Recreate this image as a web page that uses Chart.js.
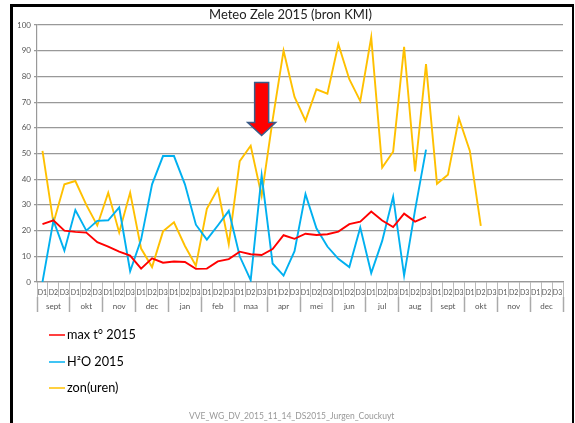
<!DOCTYPE html>
<html>
<head>
<meta charset="utf-8">
<style>html,body{margin:0;padding:0;background:#fff}#w{width:575px;height:423px;position:relative}</style>
<script src="https://cdn.jsdelivr.net/npm/chart.js@4"></script>
</head>
<body>
<div id="w"><canvas id="c" width="575" height="423"></canvas></div>
<script>
const titleText = 'Meteo Zele 2015 (bron KMI)';
const footerText = 'VVE_WG_DV_2015_11_14_DS2015_Jurgen_Couckuyt';
const months = ['sept','okt','nov','dec','jan','feb','maa','apr','mei','jun','jul','aug','sept','okt','nov','dec'];
const decades = ['D1','D2','D3'];
const categories = months.flatMap(m => decades.map(d => d));
const maxTemp = [22.5,24,20,19.5,19.2,15.5,13.8,11.8,10.3,5.2,9.2,7.5,8,7.8,5.1,5.2,8,8.9,11.8,10.8,10.5,12.8,18.2,16.8,18.8,18.3,18.6,19.6,22.5,23.5,27.4,23.9,21.4,26.6,23.5,25.3];
const water = [0,24,12.2,28,20,23.8,24,29,4.2,16.5,38,49,49,38,22.3,16.5,22,27.7,10,0.7,41.5,7.2,2.5,12,34.2,20.9,13.8,9,5.8,21.2,3.5,16,33.2,2.5,28,51.5];
const sunHours = [51,23,38,39.3,30,22,34.7,19.3,34.8,13,5.8,19.7,23.2,14,6.3,28.5,36.3,14.7,47,53,33.5,63,90,72,62.8,75,73.3,92.5,78.9,70.4,95.2,44.5,50.7,91.5,43,84.8,38.2,41.7,63.7,51,21.8];
const seriesNames = ['max t° 2015','H²O 2015','zon(uren)'];
const seriesColors = ['#FF0000','#00B0F0','#FFC000'];
const arrowIndex = 20;
const arrowTipValue = 57;

const decor = {
  id:'decor',
  beforeDraw(ch){
    const c = ch.ctx; c.save();
    c.fillStyle='#fff'; c.fillRect(0,0,575,423);
    c.fillStyle='#000';
    c.fillRect(10,4,564,3);
    c.fillRect(10,4,3,419);
    c.fillRect(572,4,2,419);
    c.restore();
  },
  afterDraw(ch){
    const c = ch.ctx; c.save();
    // arrow
    const ax = ch.scales.x.getPixelForValue(arrowIndex);
    const tip = ch.scales.y.getPixelForValue(arrowTipValue);
    c.beginPath();
    c.moveTo(ax-7,tip-53);c.lineTo(ax+7,tip-53);c.lineTo(ax+7,tip-13);c.lineTo(ax+14,tip-13);
    c.lineTo(ax,tip);c.lineTo(ax-14,tip-13);c.lineTo(ax-7,tip-13);c.closePath();
    c.fillStyle='#FF0000';c.fill();c.lineWidth=1.5;c.strokeStyle='#385D8A';c.stroke();
    // legend
    c.font='12.7px Lato, "Open Sans", sans-serif';c.textBaseline='middle';c.textAlign='left';
    ch.data.datasets.forEach((d,i)=>{
      const y=[335,362,388][i];
      c.strokeStyle=d.borderColor;c.lineWidth=1.5;
      c.beginPath();c.moveTo(49,y);c.lineTo(65,y);c.stroke();
      c.fillStyle='#000';c.fillText(d.label,67,y);
    });
    // footer
    c.font='8.5px Lato, "Open Sans", sans-serif';c.fillStyle='#999';c.textAlign='left';
    c.fillText(footerText,189,416);
    c.restore();
  }
};

new Chart(document.getElementById('c'),{
  type:'line',
  data:{
    labels:categories.map((d,i)=>i),
    datasets:[maxTemp,water,sunHours].map((v,i)=>({
      label:seriesNames[i],data:v,borderColor:seriesColors[i],backgroundColor:seriesColors[i],
      borderWidth:1.9,pointRadius:0,tension:0,fill:false,spanGaps:false
    }))
  },
  plugins:[decor],
  options:{
    responsive:false,animation:false,
    layout:{padding:{left:18,right:12,top:0,bottom:111}},
    plugins:{
      legend:{display:false},tooltip:{enabled:false},
      title:{display:true,text:titleText,color:'#222',font:{family:'Lato, "Open Sans", sans-serif',size:13,weight:'normal',lineHeight:1.2},padding:{top:7,bottom:2.4}}
    },
    scales:{
      y:{
        min:0,max:100,
        afterFit(s){s.width=19;},
        ticks:{stepSize:10,color:'#555',font:{family:'Lato, "Open Sans", sans-serif',size:8},padding:3},
        grid:{color:'#999',lineWidth:1.2,tickLength:3,tickColor:'#999'},
        border:{color:'#999',width:1.2}
      },
      x:{
        type:'category',offset:true,
        afterFit(s){s.height=15;},
        ticks:{autoSkip:false,maxRotation:0,minRotation:0,color:'#555',font:{family:'Lato, "Open Sans", sans-serif',size:7},padding:-8,
          callback(v,i){return categories[i];}},
        grid:{drawOnChartArea:false,offset:true,tickLength:15,tickColor:'#bbb',tickWidth:1},
        border:{color:'#999',width:1.2}
      },
      x2:{
        type:'category',position:'bottom',offset:true,labels:months,
        afterFit(s){s.height=15;},
        ticks:{autoSkip:false,maxRotation:0,minRotation:0,color:'#555',font:{family:'Lato, "Open Sans", sans-serif',size:8},padding:-10},
        grid:{drawOnChartArea:false,offset:true,tickLength:15,tickColor:'#aaa',tickWidth:1.5},
        border:{display:false}
      }
    }
  }
});
</script>
</body>
</html>
